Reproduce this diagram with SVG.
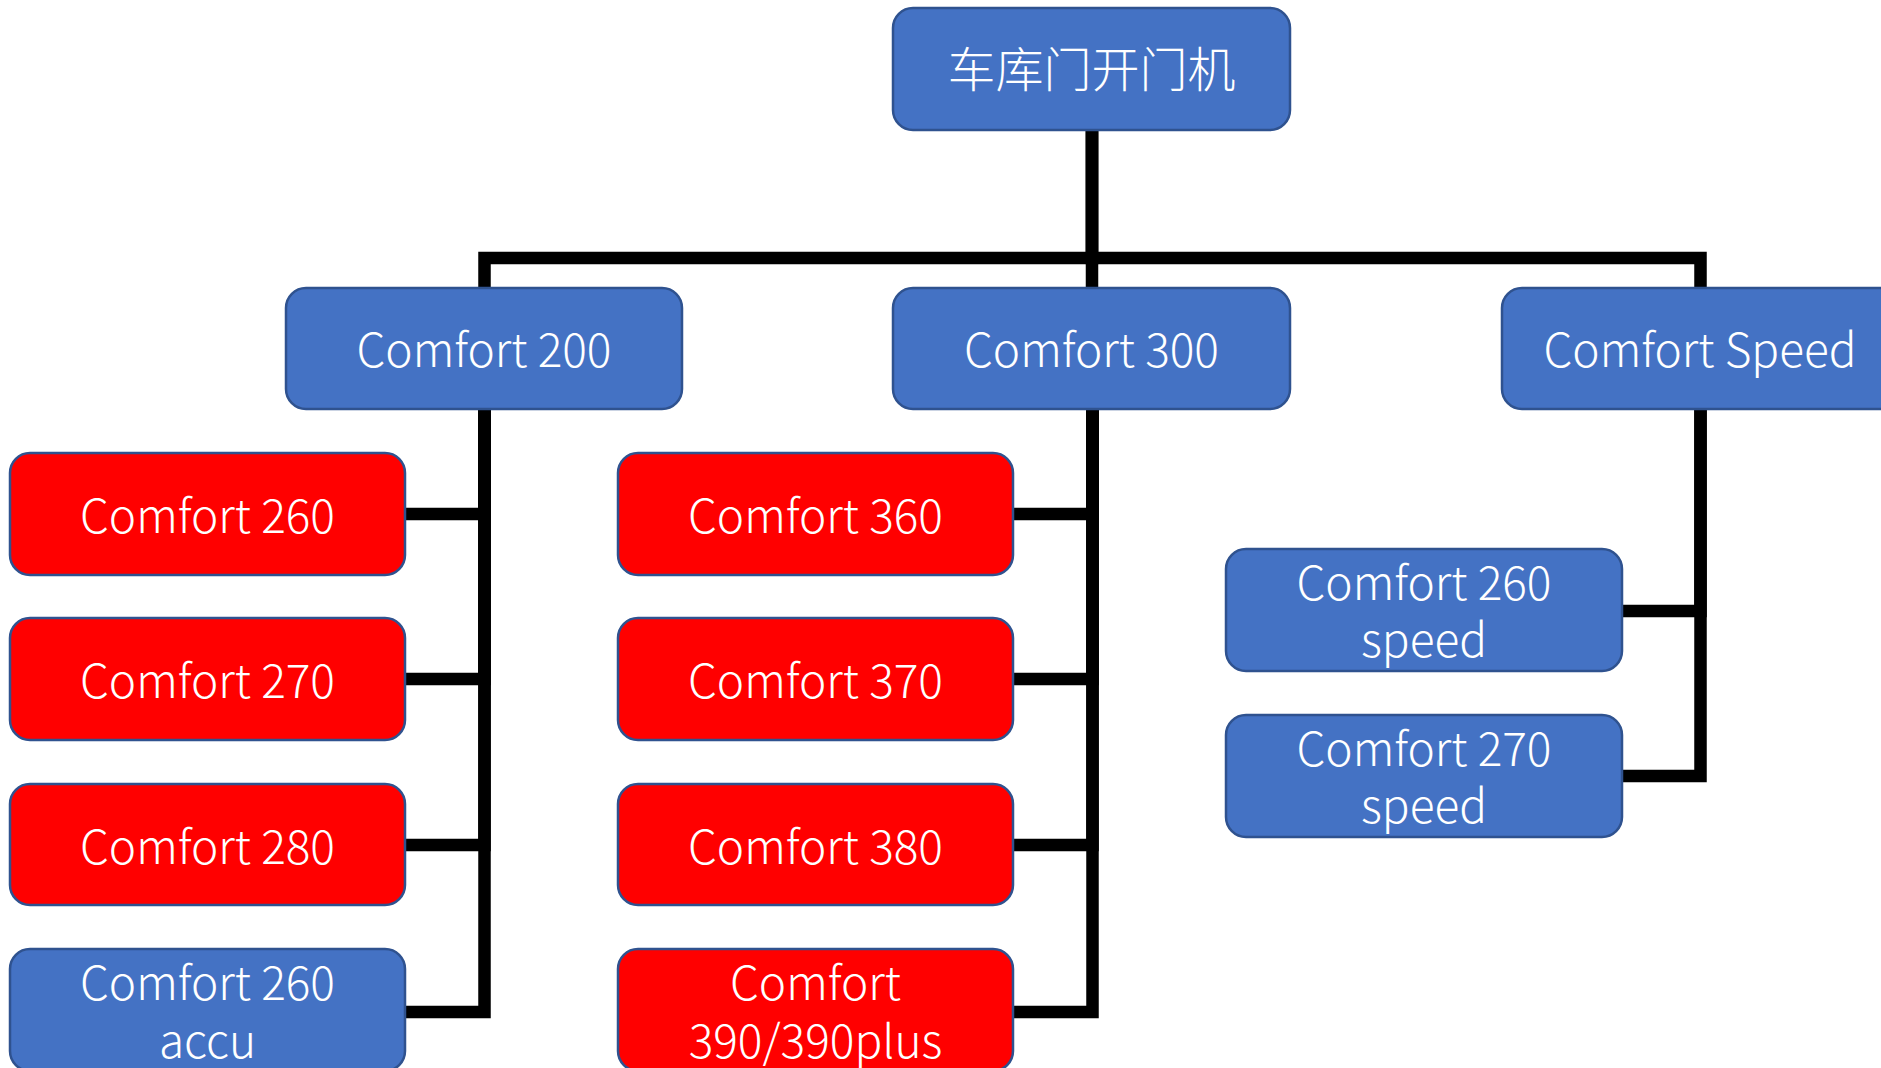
<svg xmlns="http://www.w3.org/2000/svg" width="1881" height="1068" viewBox="0 0 1881 1068">
<style>
.n rect{stroke:#2F528F;stroke-width:2.5}
.b rect{fill:#4472C4}
.r rect{fill:#FF0000}
.n text{font-family:"Noto Sans CJK SC","Liberation Sans",sans-serif;font-weight:300;font-size:46px;fill:#FFFFFF;text-anchor:middle}
.c path{fill:none;stroke:#000000;stroke-width:12.5;stroke-linejoin:miter;stroke-linecap:butt}
</style>
<rect width="1881" height="1068" fill="#FFFFFF"/>
<g class="c" id="connectors">
<path d="M1092,130 V258 H484.5 V288"/>
<path d="M1092,130 V288"/>
<path d="M1092,130 V258 H1700.5 V288"/>
<path d="M484.5,409 V514 H405"/>
<path d="M484.5,409 V679 H405"/>
<path d="M484.5,409 V845 H405"/>
<path d="M484.5,409 V1012 H405"/>
<path d="M1092.5,409 V514 H1013"/>
<path d="M1092.5,409 V679 H1013"/>
<path d="M1092.5,409 V845 H1013"/>
<path d="M1092.5,409 V1012 H1013"/>
<path d="M1700.5,409 V611 H1622"/>
<path d="M1700.5,409 V776 H1622"/>
</g>
<g id="root" class="n b"><rect x="893" y="8" width="397" height="122" rx="20"/><text x="1091.5" y="87" style="font-size:48px">车库门开门机</text></g>
<g id="c200" class="n b"><rect x="286" y="288" width="396" height="121" rx="20"/><text x="484" y="367">Comfort 200</text></g>
<g id="c300" class="n b"><rect x="893" y="288" width="397" height="121" rx="20"/><text x="1091.5" y="367">Comfort 300</text></g>
<g id="cspeed" class="n b"><rect x="1502" y="288" width="397" height="121" rx="20"/><text x="1700" y="367">Comfort Speed</text></g>
<g id="c260" class="n r"><rect x="10" y="453" width="395" height="122" rx="20"/><text x="207.5" y="533">Comfort 260</text></g>
<g id="c270" class="n r"><rect x="10" y="618" width="395" height="122" rx="20"/><text x="207.5" y="698">Comfort 270</text></g>
<g id="c280" class="n r"><rect x="10" y="784" width="395" height="121" rx="20"/><text x="207.5" y="864">Comfort 280</text></g>
<g id="c260accu" class="n b"><rect x="10" y="949" width="395" height="122" rx="20"/><text x="207.5" y="1000">Comfort 260</text><text x="207.5" y="1058">accu</text></g>
<g id="c360" class="n r"><rect x="618" y="453" width="395" height="122" rx="20"/><text x="815.5" y="533">Comfort 360</text></g>
<g id="c370" class="n r"><rect x="618" y="618" width="395" height="122" rx="20"/><text x="815.5" y="698">Comfort 370</text></g>
<g id="c380" class="n r"><rect x="618" y="784" width="395" height="121" rx="20"/><text x="815.5" y="864">Comfort 380</text></g>
<g id="c390" class="n r"><rect x="618" y="949" width="395" height="122" rx="20"/><text x="815.5" y="1000">Comfort</text><text x="815.5" y="1058">390/390plus</text></g>
<g id="c260speed" class="n b"><rect x="1226" y="549" width="396" height="122" rx="20"/><text x="1424" y="600">Comfort 260</text><text x="1424" y="657">speed</text></g>
<g id="c270speed" class="n b"><rect x="1226" y="715" width="396" height="122" rx="20"/><text x="1424" y="766">Comfort 270</text><text x="1424" y="823">speed</text></g>
</svg>
